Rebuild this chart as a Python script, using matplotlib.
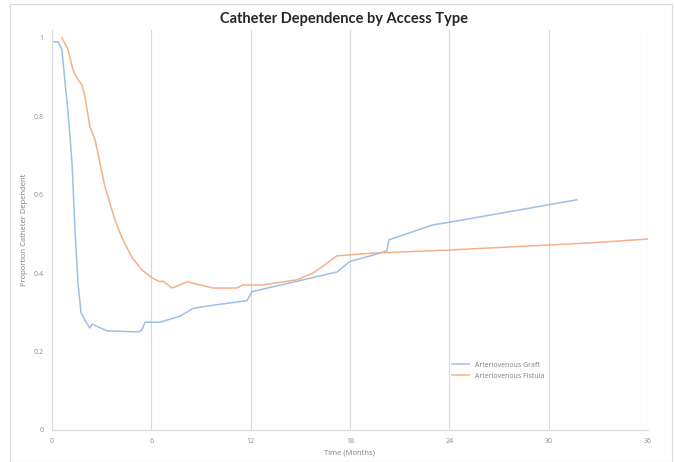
import matplotlib
matplotlib.use("Agg")
import matplotlib.pyplot as plt
from matplotlib.patches import Rectangle

# values (months, proportion)
graft_months = [0, 0.36, 0.6, 0.78, 0.97, 1.21, 1.39, 1.57, 1.75, 1.99, 2.29, 2.42,
                2.78, 3.32, 5.19, 5.43, 5.62, 6.52, 7.73, 8.51, 9.36, 11.78, 12.08,
                14.37, 17.21, 18.0, 19.4, 20.23, 20.35, 23.0, 24.03, 31.7]
graft_values = [0.99, 0.99, 0.97, 0.89, 0.81, 0.68, 0.51, 0.375, 0.30, 0.28, 0.26, 0.27,
                0.263, 0.253, 0.25, 0.255, 0.275, 0.275, 0.29, 0.31, 0.316, 0.33, 0.353,
                0.375, 0.403, 0.43, 0.446, 0.457, 0.485, 0.523, 0.53, 0.587]

fistula_months = [0.6, 0.97, 1.27, 1.57, 1.81, 1.99, 2.29, 2.6, 2.9, 3.2, 3.38, 3.8,
                  4.23, 4.83, 5.43, 6.04, 6.52, 6.7, 7.25, 7.73, 8.15, 9.72, 11.17,
                  11.53, 12.74, 14.8, 15.76, 16.3, 17.21, 19.38, 24.03, 30.07, 32.49, 36]
fistula_values = [1.0, 0.97, 0.918, 0.893, 0.88, 0.85, 0.773, 0.74, 0.68, 0.62, 0.595,
                  0.536, 0.49, 0.44, 0.408, 0.388, 0.378, 0.38, 0.362, 0.37, 0.378,
                  0.362, 0.362, 0.37, 0.37, 0.383, 0.40, 0.416, 0.444, 0.451, 0.459,
                  0.472, 0.477, 0.487]

x_ticks = [0, 6, 12, 18, 24, 30, 36]
y_ticks = [0, 0.2, 0.4, 0.6, 0.8, 1]
y_tick_labels = ["0", "0.2", "0.4", "0.6", "0.8", "1"]

plt.rcParams["font.family"] = ["Open Sans", "DejaVu Sans"]

fig = plt.figure(figsize=(6.75, 4.62), dpi=100)
ax = fig.add_axes([52 / 675, 32 / 462, 596 / 675, 400 / 462])

grey = "#d9d9d9"
ax.plot(graft_months, graft_values, color="#9cc0e4", lw=1.1, label="Arteriovenous Graft")
ax.plot(fistula_months, fistula_values, color="#f5b088", lw=1.1, label="Arteriovenous Fistula")

ax.set_xlim(0, 36)
ax.set_ylim(0, 1.02)
ax.set_xticks(x_ticks)
ax.set_yticks(y_ticks)
ax.set_yticklabels(y_tick_labels)
ax.tick_params(length=0, labelsize=5, labelcolor="#8c8c8c", pad=6)
ax.grid(axis="x", color=grey, lw=0.8)
for side in ["top", "right"]:
    ax.spines[side].set_visible(False)
for side in ["left", "bottom"]:
    ax.spines[side].set_color(grey)

ax.set_xlabel("Time (Months)", fontsize=5.5, color="#7f7f7f", labelpad=3)
ax.set_ylabel("Proportion Catheter Dependent", fontsize=5.5, color="#7f7f7f", labelpad=4)
fig.suptitle("Catheter Dependence by Access Type", x=0.51, y=0.975,
             fontsize=10.5, fontweight="bold", color="#262626", family=["Lato", "DejaVu Sans"])

leg = ax.legend(loc="lower left", bbox_to_anchor=(0.66, 0.11), frameon=False,
                fontsize=5, handlelength=2.5, labelspacing=0.6)
for t in leg.get_texts():
    t.set_color("#7f7f7f")

fig.patches.append(Rectangle((10 / 675, 0), 662 / 675, 458 / 462, transform=fig.transFigure,
                             fill=False, edgecolor=grey, lw=0.8))

fig.savefig("out.png", dpi=100)
